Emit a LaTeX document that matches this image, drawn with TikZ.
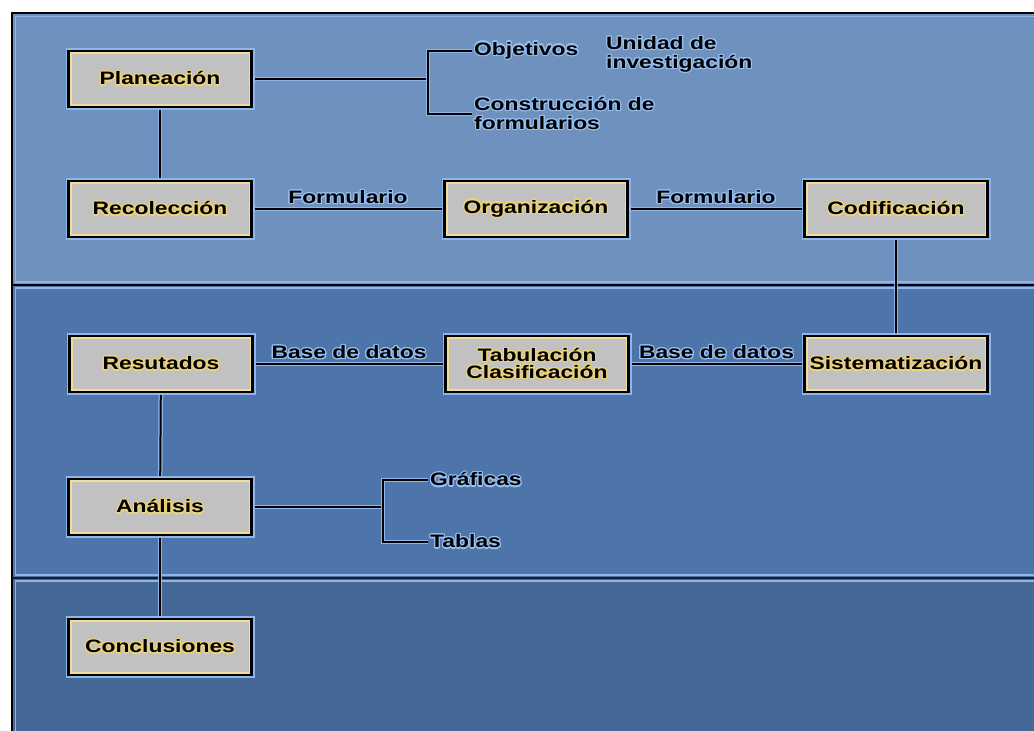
\documentclass[tikz,border=0pt]{standalone}
\usepackage{fontspec}
\setmainfont{Liberation Sans}[FakeStretch=1.27]
\usepackage{contour}
\contourlength{1.2pt}
\usetikzlibrary{positioning}

\definecolor{bandA}{RGB}{111,145,190}
\definecolor{bandB}{RGB}{77,117,170}
\definecolor{bandC}{RGB}{70,104,150}
\definecolor{halo}{RGB}{140,182,236}
\definecolor{boxgrey}{RGB}{193,193,193}
\definecolor{cream}{RGB}{240,222,150}
\definecolor{glowbox}{RGB}{238,212,120}
\definecolor{glowlbl}{RGB}{150,192,242}

\newcommand{\bx}[1]{\contour{glowbox}{#1}}
\newcommand{\lb}[1]{\contour{glowlbl}{#1}}

\pgfdeclarelayer{bands}
\pgfdeclarelayer{wires}
\pgfsetlayers{bands,wires,main}

\tikzset{
  box/.style={draw=black, line width=2.5pt, fill=boxgrey, minimum width=183pt,
    minimum height=56pt, inner sep=0pt, align=center,
    font=\fontsize{18}{17}\selectfont\bfseries,
    preaction={draw=halo, line width=6pt},
    path picture={\draw[cream, line width=6pt] (path picture bounding box.south west)
      rectangle (path picture bounding box.north east);}},
  lbl/.style={font=\fontsize{18}{19}\selectfont\bfseries, inner sep=2pt, align=left},
  wire/.style={draw=black, line width=2pt, preaction={draw=halo, line width=4.5pt}},
}

\begin{document}
\begin{tikzpicture}[x=1pt, y=-1pt]
\useasboundingbox (0,0) rectangle (1034,731);

\begin{pgfonlayer}{bands}
\fill[bandA] (12,13) rectangle (1040,285);
\fill[bandB] (12,285) rectangle (1040,578);
\fill[bandC] (12,578) rectangle (1040,740);
\draw[halo, line width=1.5pt] (15.5,16.5) rectangle (1040,282);
\draw[halo, line width=1.5pt] (15.5,288) rectangle (1040,575);
\draw[halo, line width=1.5pt] (15.5,581) rectangle (1040,740);
\draw[black, line width=2pt] (12,740) -- (12,13) -- (1040,13);
\draw[black, line width=2pt] (12,285) -- (1040,285);
\draw[black!70!bandC, line width=1.5pt] (12,578) -- (1040,578);
\end{pgfonlayer}

\node (Plan) [box] at (160,79) {\bx{Planeación}};
\node (Recol) [box] at (160,209) {\bx{Recolección}};
\node (Organ) [box] at (536,209) {\bx{Organización}};
\node (Codif) [box] at (896,209) {\bx{Codificación}};
\node (Result) [box] at (161,364) {\bx{Resutados}};
\node (Tabul) [box] at (537,364) {\bx{Tabulación}\\\bx{Clasificación}};
\node (Sistem) [box] at (896,364) {\bx{Sistematización}};
\node (Anal) [box] at (160,507) {\bx{Análisis}};
\node (Concl) [box] at (160,647) {\bx{Conclusiones}};

\node (Obj) [lbl, anchor=west] at (472,51) {\lb{Objetivos}};
\node (Unid) [lbl, anchor=north west] at (604,34) {\lb{Unidad de}\\\lb{investigación}};
\node (Cons) [lbl, anchor=west] at (472,114) {\lb{Construcción de}\\\lb{formularios}};
\node (Graf) [lbl, anchor=west] at (428,480) {\lb{Gráficas}};
\node (Tabl) [lbl, anchor=west] at (428,542) {\lb{Tablas}};
\coordinate (PlanFork) at (428,79);
\coordinate (AnalFork) at (383,507);

\begin{pgfonlayer}{wires}
\draw[wire] (Plan) -- (Recol);
\draw[wire] (Plan.east) -- (PlanFork);
\draw[wire] (Obj.west) -| (PlanFork) |- (Cons.west);
\draw[wire] (Recol) -- node[lbl, above, inner sep=3pt] {\lb{Formulario}} (Organ);
\draw[wire] (Organ) -- node[lbl, above, inner sep=3pt] {\lb{Formulario}} (Codif);
\draw[wire] (Codif) -- (Sistem);
\draw[wire] (Result) -- node[lbl, above, inner sep=3pt] {\lb{Base de datos}} (Tabul);
\draw[wire] (Tabul) -- node[lbl, above, inner sep=3pt] {\lb{Base de datos}} (Sistem);
\draw[wire] (Result) -- (Anal);
\draw[wire] (Anal) -- (Concl);
\draw[wire] (Anal.east) -- (AnalFork);
\draw[wire] (Graf.west) -| (AnalFork) |- (Tabl.west);
\end{pgfonlayer}
\end{tikzpicture}
\end{document}
